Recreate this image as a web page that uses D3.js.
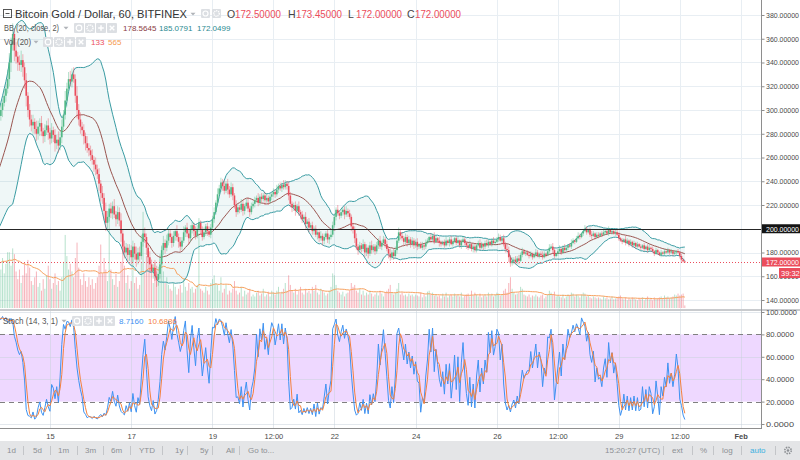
<!DOCTYPE html>
<html><head><meta charset="utf-8">
<script src="https://cdn.jsdelivr.net/npm/d3@7/dist/d3.min.js"></script>
<style>
body{margin:0;background:#fff;}
svg{display:block;font-family:"Liberation Sans",Arial,sans-serif;}
</style></head><body>
<svg id="chart" width="800" height="460"></svg>
<script>
// ---------- DATA (hourly BTG/USD, first bar 2018-01-12 12:00 UTC) ----------
const closes = [
 205,208,204,210,212,209,214,211,215,213,217,214, // Jan12 12h
 216,220,224,228,232,236,240,238,245,250,255,260, // Jan13 00h
 265,270,275,280,284,290,295,300,306,312,318,326, // Jan13 12h
 340,355,364,350,345,340,338,342,336,325,312,300, // Jan14 00h
 292,287,290,284,280,286,289,282,278,283,287,281, // Jan14 12h
 276,283,279,272,275,270,277,286,296,308,318,326, // Jan15 00h
 324,330,326,312,300,292,286,283,278,272,268,266, // Jan15 12h
 262,258,254,250,246,238,230,226,215,205,210,217, // Jan16 00h
 213,219,212,208,214,207,196,185,180,184,178,182, // Jan16 12h
 176,185,179,174,180,177,189,196,193,184,176,170, // Jan17 00h
 164,167,160,157,162,170,182,188,184,190,196,193, // Jan17 12h
 188,194,198,193,189,185,190,197,201,196,192,199, // Jan18 00h
 203,198,194,200,205,199,193,197,202,198,195,201, // Jan18 12h
 208,214,222,229,234,239,236,232,238,233,229,235, // Jan19 00h
 228,220,214,218,216,221,215,219,222,217,214,219, // Jan19 12h
 221,224,226,222,227,225,228,224,226,223,227,229, // Jan20 00h
 231,229,233,236,234,237,235,238,236,228,221,218, // Jan20 12h
 220,215,219,214,212,208,210,204,206,201,203,198, // Jan21 00h
 200,195,197,192,194,190,193,196,191,193,195,203, // Jan21 12h
 210,216,213,211,214,216,212,215,213,210,202,199, // Jan22 00h
 192,185,182,186,183,187,180,184,179,186,182,185, // Jan22 12h
 181,186,190,185,188,191,187,183,179,176,180,177, // Jan23 00h
 182,190,197,194,192,189,193,188,191,187,190,186, // Jan23 12h
 189,185,187,184,186,185,188,190,193,191,194,189, // Jan24 00h
 192,190,188,187,189,186,190,188,191,187,189,192, // Jan24 12h
 188,190,186,189,191,188,186,184,187,183,185,182, // Jan25 00h
 186,188,184,187,185,188,186,189,187,190,188,189, // Jan25 12h
 191,193,190,192,187,183,182,176,171,173,174,172, // Jan26 00h
 175,173,178,181,179,180,178,177,179,176,178,180, // Jan26 12h
 177,179,178,176,179,178,181,184,185,182,177,179, // Jan27 00h
 181,183,180,184,182,184,186,185,188,190,189,192, // Jan27 12h
 194,193,196,198,200,197,199,195,194,196,193,195, // Jan28 00h
 194,196,195,197,198,196,199,197,198,196,197,195, // Jan28 12h
 192,190,189,191,188,190,187,189,186,188,185,187, // Jan29 00h
 185,184,186,183,185,182,184,183,181,179,182,180, // Jan29 12h
 178,180,179,181,180,182,180,181,179,180,181,180, // Jan30 00h
 177,174,172.5,172                                 // Jan30 12h
];
// upper / lower wick length above/below the candle body (price units)
const wickUp = [
 2,3,1,4,2,3,2,1,3,2,4,2, 3,2,4,3,5,2,3,4,2,5,3,4, 4,3,5,2,6,3,4,5,3,6,4,8,
 8,6,9,5,7,4,6,8,5,4,6,3, 5,4,6,3,7,5,4,6,3,5,4,6, 4,6,3,5,4,7,5,6,4,8,5,6,
 7,5,6,4,8,5,6,4,5,3,6,4, 4,5,3,6,4,5,3,6,4,7,5,4, 5,4,6,3,5,4,6,3,5,4,3,5,
 4,5,3,6,4,5,6,4,5,3,4,5, 4,3,5,4,6,5,4,6,3,5,4,3, 3,4,2,5,3,4,3,5,2,4,3,4,
 3,2,4,3,4,2,3,4,2,3,4,3, 3,4,2,5,3,4,3,5,2,4,3,4, 3,2,4,3,2,4,3,2,3,4,2,3,
 2,3,2,4,2,3,2,3,4,2,3,2, 3,2,4,2,3,2,4,3,2,4,3,2, 2,3,2,4,2,3,2,4,2,3,2,3,
 2,3,2,3,4,2,3,2,3,2,4,3, 3,2,4,2,3,2,3,4,2,3,2,3, 3,4,2,3,2,4,2,3,2,3,4,2,
 2,3,2,4,2,3,2,3,2,4,2,3, 3,2,4,2,3,2,3,2,3,2,3,2, 2,3,1,2,3,2,3,2,1,3,2,3,
 2,1,3,2,1,2,3,1,2,3,2,1, 2,3,1,2,3,2,1,2,3,1,2,3, 1,2,3,2,1,2,3,2,1,2,3,2,
 2,3,2,1,3,2,4,3,2,3,2,3, 2,3,2,3,2,1,2,3,2,1,2,3, 2,1,2,3,2,1,2,3,2,3,2,1,
 2,3,1,2,3,2,1,2,3,2,1,2, 3,2,1,2,3,2,1,2,3,2,1,2, 2,1,2,3,1,2,3,1,2,1,2,3,
 2,1,2,1,3,2,1,2,1,2,1,2, 1,2,1,2,1,2,3,1,2,1,2,1, 1,2,1,2,1,2,1,2,1,2,1,2,
 1,2,1,0.95
];
const wickDn = [
 2,1,3,2,4,2,3,2,1,3,2,2, 3,2,3,4,2,3,5,2,4,3,2,4, 4,5,3,6,4,3,5,4,6,3,5,4,
 6,8,5,9,6,7,5,6,8,7,9,6, 6,5,7,4,6,5,8,4,6,5,4,6, 5,4,6,7,5,6,4,5,3,4,5,3,
 4,5,3,6,7,5,6,5,7,6,4,5, 5,4,6,5,4,6,7,5,8,7,5,4, 4,5,3,6,4,5,7,6,5,4,6,5,
 6,4,5,6,4,5,3,4,5,6,5,6, 5,6,4,6,5,4,3,4,5,3,4,5, 4,3,4,3,5,4,3,2,4,3,5,3,
 3,4,3,2,3,4,3,2,3,4,2,3, 2,3,2,3,2,3,4,3,2,4,3,2, 4,3,4,2,3,2,4,3,2,3,4,2,
 2,3,2,3,2,3,2,4,2,3,2,3, 2,3,2,3,2,3,2,2,3,4,3,4, 3,4,2,3,4,3,2,4,3,4,2,3,
 3,2,4,3,2,4,3,2,3,4,2,2, 2,3,2,3,2,3,4,2,3,2,4,3, 4,3,4,2,3,2,4,3,4,2,3,2,
 3,2,3,2,3,2,3,2,4,3,2,3, 2,3,2,3,2,3,2,3,2,3,2,3, 2,3,2,1,2,3,2,1,2,3,2,2,
 1,2,3,2,1,2,1,2,3,1,2,1, 2,1,2,3,1,2,3,2,1,2,3,2, 2,1,2,1,3,2,1,2,1,2,1,2,
 1,2,1,2,2,3,2,4,3,2,3,2, 2,3,1,2,1,2,1,2,1,2,1,2, 1,2,1,2,1,2,1,2,1,3,2,1,
 2,1,2,1,2,1,2,1,2,1,2,1, 1,2,1,2,1,2,1,2,3,1,2,1, 2,1,2,1,2,1,2,1,2,1,2,1,
 2,1,2,1,2,1,2,1,2,1,2,1, 1,2,1,2,1,2,1,2,1,2,1,2, 1,2,1,2,1,1,2,1,2,1,2,1,
 2,2,1,0
];
const volumes = [
 900,1100,800,1300,1000,1200,900,1400,1100,1000,1300,1200,
 1500,1800,2200,2600,2000,2400,2900,1900,2500,2700,2300,2600,
 2800,2400,3000,2200,2600,2300,2700,2000,2600,1800,2300,2900,
 2900,2200,3100,2800,1900,1500,2000,1300,1700,2300,1800,2500,
 2100,1400,1200,1600,1900,1100,1300,900,1500,1000,1700,2200,
 1500,1000,1300,1800,1200,1400,900,1600,2400,3800,2700,2000,
 2300,1900,1600,2600,3400,2100,1500,1200,1800,1400,1100,1600,
 1200,1500,1000,1300,1600,2200,3300,1800,2600,2000,1400,4800,
 2000,1500,1200,1800,1100,1400,2400,3600,2200,1300,1700,1000,
 1400,2900,1300,1600,1000,1200,2400,5000,1800,2700,3000,2100,
 1600,1300,2500,2200,1400,2800,3200,1900,1300,1600,1200,1000,
 900,1300,1100,700,1000,1200,800,1500,1100,900,1300,1000,
 1100,800,1000,1200,3900,1000,900,800,1100,900,700,1300,
 1500,1700,1300,1200,900,1600,800,1000,1200,700,900,800,
 1000,1400,900,700,800,1100,600,900,700,800,1000,600,
 700,600,800,900,650,750,1000,600,700,850,600,900,
 800,700,900,1100,750,850,1000,1300,900,1700,1200,900,
 800,1000,700,900,1100,800,700,1000,800,900,750,1100,
 900,1200,800,700,1000,900,800,650,750,900,1100,1800,
 1700,1200,900,800,700,850,600,750,800,900,1300,1100,
 1200,900,800,1000,700,900,650,800,700,900,750,600,
 700,800,650,900,750,600,800,900,1000,1200,800,700,
 800,1000,1300,700,800,650,700,600,750,650,700,600,
 700,650,600,800,550,700,600,850,900,700,800,650,
 700,600,650,500,750,600,800,550,650,700,600,750,
 650,700,600,800,550,650,700,750,600,900,650,800,
 700,600,750,550,650,700,600,800,650,750,600,700,
 800,750,650,700,900,1000,800,1300,1600,1000,800,700,
 750,800,1100,1000,700,650,600,700,550,650,600,700,
 600,550,650,700,500,600,700,900,800,700,850,600,
 650,600,550,700,500,600,700,650,800,750,600,700,
 650,550,700,800,750,600,650,550,500,600,550,500,
 550,500,450,600,500,550,450,500,600,450,500,550,
 600,650,500,450,550,400,500,450,550,500,450,400,
 500,450,550,400,500,600,450,500,400,550,450,500,
 550,600,500,650,550,600,500,550,600,700,650,750,
 650,700,750,133
];
const priceTicks = [140,160,180,200,220,240,260,280,300,320,340,360,380];
const stochTicks = [0,20,40,60,80,100];
const timeTickLabels = ["15","17","19","12:00","22","24","26","12:00","29","12:00","Feb"];
const timeTickDates = ["2018-01-15T00:00Z","2018-01-17T00:00Z","2018-01-19T00:00Z","2018-01-20T12:00Z","2018-01-22T00:00Z","2018-01-24T00:00Z","2018-01-26T00:00Z","2018-01-27T12:00Z","2018-01-29T00:00Z","2018-01-30T12:00Z","2018-02-01T00:00Z"];
const hLineLevel = 200;
const lastPrice = 172;
const headerOHLC = [["O","172.50000"],["H","173.45000"],["L","172.00000"],["C","172.00000"]];
const bbValues = ["178.5645","185.0791","172.0499"];
const volValues = ["133","565"];
const stochValues = ["8.7160","10.6886"];
const leftButtons = ["1d","5d","1m","3m","6m","YTD","1y","5y","All","Go to..."];

// ---------- LAYOUT ----------
const PR = 761;
const svg = d3.select("#chart");
const x = d3.scaleUtc().domain([Date.UTC(2018,0,13,18,30), Date.UTC(2018,1,1,12,0)]).range([0, PR]);
const y = d3.scaleLinear().domain([140,380]).range([300,15]);
const yv = d3.scaleLinear().domain([0,5200]).range([308,208]);
const ys = d3.scaleLinear().domain([0,100]).range([424,312]);
const t0 = Date.UTC(2018,0,12,12);
const data = closes.map((c,i)=>{const o = i ? closes[i-1] : c;
  return {t:new Date(t0+i*3600e3), o, c, top:Math.max(o,c), bot:Math.min(o,c),
          h:Math.max(o,c)+wickUp[i], l:Math.min(o,c)-wickDn[i], v:volumes[i]};});
const tDates = timeTickDates.map(s=>new Date(s));

// indicators
const bb=[], vma=[];
for(let i=19;i<data.length;i++){
  const w=closes.slice(i-19,i+1); const m=d3.mean(w);
  const sd=Math.sqrt(d3.mean(w,v=>(v-m)*(v-m)));
  bb.push({t:data[i].t,m,u:m+2*sd,l:m-2*sd});
  vma.push({t:data[i].t,v:d3.mean(volumes.slice(i-19,i+1))});
}
const K=[];
for(let i=13;i<data.length;i++){
  const win=data.slice(i-13,i+1); const hh=d3.max(win,d=>d.h), ll=d3.min(win,d=>d.l);
  K.push({t:data[i].t,k: hh===ll?50:100*(data[i].c-ll)/(hh-ll)});
}
const D=[];
for(let i=2;i<K.length;i++) D.push({t:K[i].t,d:(K[i].k+K[i-1].k+K[i-2].k)/3});

const defs=svg.append("defs");
defs.append("clipPath").attr("id","cm").append("rect").attr("x",0).attr("y",0).attr("width",PR).attr("height",309);
defs.append("clipPath").attr("id","cs").append("rect").attr("x",0).attr("y",311).attr("width",PR).attr("height",117);

const grid="#e8eef3";
// main grid
const gm=svg.append("g");
gm.selectAll("line.h").data(priceTicks).join("line").attr("x1",0).attr("x2",PR).attr("y1",d=>Math.round(y(d))+0.5).attr("y2",d=>Math.round(y(d))+0.5).attr("stroke",grid);
gm.selectAll("line.v").data(tDates).join("line").attr("x1",d=>Math.round(x(d))+0.5).attr("x2",d=>Math.round(x(d))+0.5).attr("y1",0).attr("y2",309).attr("stroke",grid);
// stoch grid
const gs=svg.append("g");
gs.append("rect").attr("x",0).attr("width",PR).attr("y",ys(80)).attr("height",ys(20)-ys(80)).attr("fill","rgba(153,21,255,0.17)");
gs.selectAll("line.h").data(stochTicks.filter(d=>d!==20&&d!==80)).join("line").attr("x1",0).attr("x2",PR).attr("y1",d=>Math.round(ys(d))+0.5).attr("y2",d=>Math.round(ys(d))+0.5).attr("stroke","rgba(200,210,220,0.5)");
gs.selectAll("line.v").data(tDates).join("line").attr("x1",d=>Math.round(x(d))+0.5).attr("x2",d=>Math.round(x(d))+0.5).attr("y1",311).attr("y2",428).attr("stroke","rgba(200,210,220,0.5)");
gs.selectAll("line.d").data([80,20]).join("line").attr("x1",0).attr("x2",PR).attr("y1",d=>Math.round(ys(d))+0.5).attr("y2",d=>Math.round(ys(d))+0.5).attr("stroke","#808080").attr("stroke-dasharray","5,4");

// main panel content
const main=svg.append("g").attr("clip-path","url(#cm)");
main.append("path").datum(bb).attr("d",d3.area().x(d=>x(d.t)).y0(d=>y(d.l)).y1(d=>y(d.u))).attr("fill","rgba(25,135,135,0.07)");
main.selectAll("rect.vol").data(data).join("rect").attr("x",d=>x(d.t)-0.5).attr("width",1)
  .attr("y",d=>yv(d.v)).attr("height",d=>308-yv(d.v))
  .attr("fill",d=>d.c>=d.o?"rgba(83,185,135,0.42)":"rgba(235,77,92,0.42)");
main.append("path").datum(vma).attr("d",d3.line().x(d=>x(d.t)).y(d=>yv(d.v))).attr("fill","none").attr("stroke","#f7a15e").attr("stroke-width",1);
["u","l"].forEach(k=>main.append("path").datum(bb).attr("d",d3.line().x(d=>x(d.t)).y(d=>y(d[k]))).attr("fill","none").attr("stroke","#3a9ca3").attr("stroke-width",1));
main.append("path").datum(bb).attr("d",d3.line().x(d=>x(d.t)).y(d=>y(d.m))).attr("fill","none").attr("stroke","#9a5550").attr("stroke-width",1);
main.selectAll("line.w").data(data).join("line").attr("x1",d=>x(d.t)).attr("x2",d=>x(d.t))
  .attr("y1",d=>y(d.h)).attr("y2",d=>y(d.l)).attr("stroke-width",0.8)
  .attr("stroke",d=>d.c>=d.o?"rgba(83,185,135,0.55)":"rgba(235,77,92,0.55)");
main.selectAll("rect.c").data(data).join("rect").attr("x",d=>x(d.t)-0.8).attr("width",1.6)
  .attr("y",d=>y(d.top)).attr("height",d=>Math.max(1,y(d.bot)-y(d.top)))
  .attr("fill",d=>d.c>=d.o?"#53b987":"#eb4d5c");
main.append("line").attr("x1",0).attr("x2",PR).attr("y1",Math.round(y(hLineLevel))+0.5).attr("y2",Math.round(y(hLineLevel))+0.5).attr("stroke","#262626");
main.append("line").attr("x1",0).attr("x2",PR).attr("y1",Math.round(y(lastPrice))+0.5).attr("y2",Math.round(y(lastPrice))+0.5).attr("stroke","#eb4d5c").attr("stroke-dasharray","1,2");

// stoch content
const st=svg.append("g").attr("clip-path","url(#cs)");
st.append("path").datum(K).attr("d",d3.line().x(d=>x(d.t)).y(d=>ys(d.k))).attr("fill","none").attr("stroke","#3e92f2").attr("stroke-width",1);
st.append("path").datum(D).attr("d",d3.line().x(d=>x(d.t)).y(d=>ys(d.d))).attr("fill","none").attr("stroke","#f4813f").attr("stroke-width",1);

// separators
svg.append("rect").attr("x",0).attr("y",309).attr("width",800).attr("height",2).attr("fill","#c9cbce");
svg.append("line").attr("x1",0).attr("x2",PR+0.5).attr("y1",428.5).attr("y2",428.5).attr("stroke","#8e8e8e");

// price axis
const axFont="7.5px";
function styleAxis(g,len){
  g.select(".domain").remove();
  g.selectAll("text").attr("font-size",axFont).attr("fill","#4a4a4a").attr("font-family","Liberation Sans, Arial, sans-serif")
   .attr("textLength",len).attr("lengthAdjust","spacingAndGlyphs");
  g.selectAll("line").attr("stroke","#8e8e8e");
}
const pa=svg.append("g").attr("transform",`translate(${PR+0.5},0)`).call(d3.axisRight(y).tickValues(priceTicks).tickFormat(d=>d.toFixed(5)).tickSize(3).tickSizeOuter(0).tickPadding(1.5));
styleAxis(pa,33);
const sa=svg.append("g").attr("transform",`translate(${PR+0.5},0)`).call(d3.axisRight(ys).tickValues(stochTicks).tickFormat(d=>d.toFixed(4)).tickSize(3).tickSizeOuter(0).tickPadding(1.5));
styleAxis(sa,null);
sa.selectAll("text").attr("textLength",d=>d===100?31:28);
svg.append("line").attr("x1",PR+0.5).attr("x2",PR+0.5).attr("y1",0).attr("y2",429).attr("stroke","#8e8e8e");

// price labels
function tag(yc,txt,fill,x0,w){
  svg.append("rect").attr("x",x0).attr("y",yc-4.5).attr("width",w).attr("height",9).attr("fill",fill);
  svg.append("text").attr("x",x0+4).attr("y",yc+2.8).attr("font-size",axFont).attr("fill","#fff")
    .attr("textLength",33).attr("lengthAdjust","spacingAndGlyphs").text(txt);
}
tag(y(hLineLevel),hLineLevel.toFixed(5),"#141414",PR+1,39);
tag(y(lastPrice),lastPrice.toFixed(5),"#eb4d5c",PR+1,39);
svg.append("rect").attr("x",779).attr("y",268).attr("width",21).attr("height",10).attr("fill","#eb4d5c");
svg.append("text").attr("x",781).attr("y",275.8).attr("font-size",axFont).attr("fill","#fff").text("39:32");

// time axis
const ta=svg.append("g").attr("transform","translate(0,429)").call(d3.axisBottom(x).tickValues(tDates).tickFormat((d,i)=>timeTickLabels[i]).tickSize(0).tickPadding(5));
ta.select(".domain").remove();
ta.selectAll("text").attr("font-size","7.5px").attr("fill","#4a4a4a").attr("font-family","Liberation Sans, Arial, sans-serif")
  .attr("font-weight",(d,i)=>timeTickLabels[i]==="Feb"?"bold":null);

// bottom toolbar
svg.append("rect").attr("x",0).attr("y",441).attr("width",800).attr("height",19).attr("fill","#e4e5e7");
const lbX=[7,33,58,85,111,139,175,200,226,248];
const sepX=[23,50,77,103,130,162,187,212,239];
const tb=svg.append("g").attr("font-size","8px").attr("fill","#8d9094");
tb.selectAll("text.b").data(leftButtons).join("text").attr("x",(d,i)=>lbX[i]).attr("y",453).text(d=>d);
const rItems=[["15:20:27 (UTC)",605,"#8d9094"],["ext",672,"#8d9094"],["%",700,"#8d9094"],["log",722,"#8d9094"],["auto",750,"#3cb0e0"]];
tb.selectAll("text.r").data(rItems).join("text").attr("x",d=>d[1]).attr("y",453).attr("fill",d=>d[2]).text(d=>d[0]);
const allSep=sepX.concat([663,692,713,741,775]);
tb.selectAll("line.s").data(allSep).join("line").attr("x1",d=>d+0.5).attr("x2",d=>d+0.5).attr("y1",446).attr("y2",455).attr("stroke","#c3c5c8");
const gear=svg.append("g").attr("transform","translate(788,450.5)");
gear.append("circle").attr("r",3.2).attr("fill","none").attr("stroke","#8d9094").attr("stroke-width",1.6).attr("stroke-dasharray","1.5,1");
gear.append("circle").attr("r",1.3).attr("fill","#8d9094");

// header / legends
function icons(xs,yt,size){
  xs.forEach((x0,i)=>{
    const g=svg.append("g").attr("transform",`translate(${x0},${yt})`);
    g.append("rect").attr("width",size).attr("height",size).attr("rx",1).attr("fill","#dcdfe3");
    const c=size/2;
    if(i===0){g.append("circle").attr("cx",c).attr("cy",c).attr("r",size*0.28).attr("fill","none").attr("stroke","#fff").attr("stroke-width",1.2);}
    else if(i===1){g.append("circle").attr("cx",c).attr("cy",c).attr("r",size*0.3).attr("fill","none").attr("stroke","#fff").attr("stroke-width",1.4).attr("stroke-dasharray","1.2,0.8");}
    else if(i===2){g.append("path").attr("d",`M${c},${size*0.22}V${size*0.78}M${size*0.22},${c}H${size*0.78}`).attr("stroke","#fff").attr("stroke-width",1.5);}
    else {g.append("path").attr("d",`M${size*0.27},${size*0.27}L${size*0.73},${size*0.73}M${size*0.73},${size*0.27}L${size*0.27},${size*0.73}`).attr("stroke","#fff").attr("stroke-width",1.4);}
  });
}
function caret(cx,cy){
  svg.append("path").attr("d",`M${cx-2.5},${cy-1.2}L${cx+2.5},${cy-1.2}L${cx},${cy+1.5}Z`).attr("fill","#b0b3b8");
}
// collapse box
svg.append("rect").attr("x",3.5).attr("y",9.5).attr("width",8).attr("height",8).attr("fill","none").attr("stroke","#555");
svg.append("line").attr("x1",5.5).attr("x2",9.5).attr("y1",13.5).attr("y2",13.5).attr("stroke","#555");
svg.append("text").attr("x",15).attr("y",18).attr("font-size","11px").attr("fill","#333").attr("textLength",172).attr("lengthAdjust","spacingAndGlyphs").text("Bitcoin Gold / Dollar, 60, BITFINEX");
caret(193,14);
icons([201,212],9,9);
const ohlcX=[227,288,348,407];
headerOHLC.forEach((p,i)=>{
  svg.append("text").attr("x",ohlcX[i]).attr("y",18).attr("font-size","10.5px").attr("fill","#444").text(p[0]);
  svg.append("text").attr("x",ohlcX[i]+8).attr("y",18).attr("font-size","10px").attr("fill","#eb4d5c").attr("textLength",46).attr("lengthAdjust","spacingAndGlyphs").text(p[1]);
});
// BB row
svg.append("text").attr("x",4).attr("y",31).attr("font-size","8.5px").attr("fill","#555").attr("textLength",55).attr("lengthAdjust","spacingAndGlyphs").text("BB (20, close, 2)");
caret(66,28);
icons([74,85,96,107],23,10);
const bbCol=["#8a3b3f","#2a8a90","#2a8a90"], bbX=[123,159,197];
bbValues.forEach((v,i)=>svg.append("text").attr("x",bbX[i]).attr("y",31).attr("font-size","8px").attr("fill",bbCol[i]).text(v));
// Vol row
svg.append("text").attr("x",4).attr("y",45).attr("font-size","8.5px").attr("fill","#555").attr("textLength",27).attr("lengthAdjust","spacingAndGlyphs").text("Vol (20)");
caret(36,42);
icons([43,54,65,76],37,10);
svg.append("text").attr("x",91).attr("y",45).attr("font-size","8px").attr("fill","#eb4d5c").text(volValues[0]);
svg.append("text").attr("x",108).attr("y",45).attr("font-size","8px").attr("fill","#f59a4e").text(volValues[1]);
// Stoch row
svg.append("text").attr("x",3).attr("y",324).attr("font-size","8.5px").attr("fill","#555").attr("textLength",55).attr("lengthAdjust","spacingAndGlyphs").text("Stoch (14, 3, 1)");
caret(64,321);
icons([72,83,94,105],316,10);
svg.append("text").attr("x",119).attr("y",324).attr("font-size","8px").attr("fill","#3e92f2").text(stochValues[0]);
svg.append("text").attr("x",148).attr("y",324).attr("font-size","8px").attr("fill","#f4813f").text(stochValues[1]);
</script>
</body></html>
